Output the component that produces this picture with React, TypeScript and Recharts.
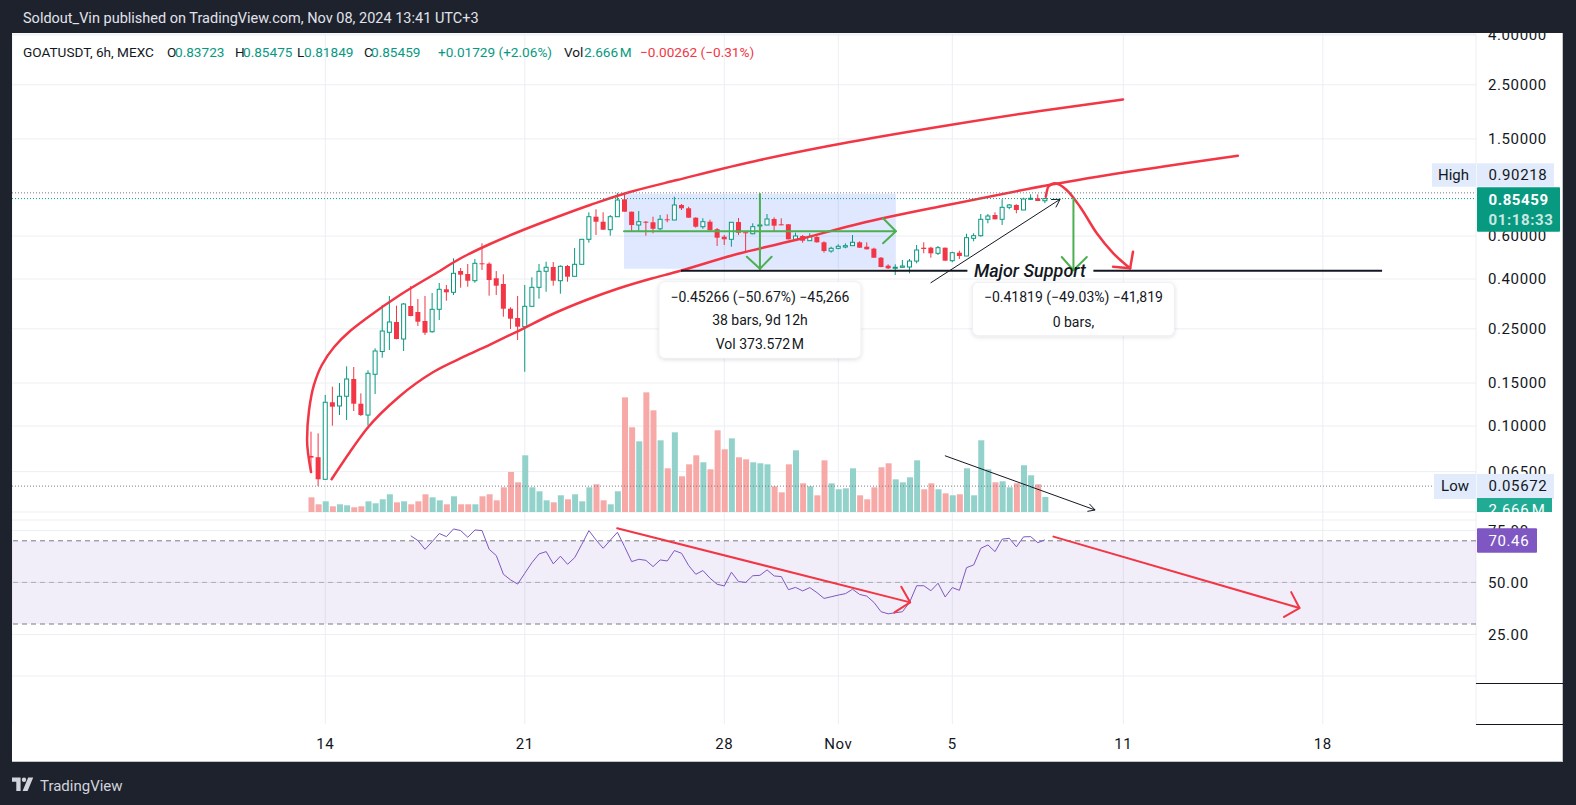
import React from 'react';
import {
  ComposedChart,
  Bar,
  Line,
  XAxis,
  YAxis,
  CartesianGrid,
  ReferenceLine,
  ReferenceArea,
  ReferenceDot,
  Cell,
} from 'recharts';

const W = 1576;
const H = 805;

const FRAME = '#1e222d';
const UP = '#089981';
const DOWN = '#f23645';
const UP_VOL = '#92d2cb';
const DOWN_VOL = '#f7a9a8';
const GRID = '#eceef2';
const TEXT = '#131722';
const DRAW_RED = '#f23645';
const DRAW_GREEN = '#4caf50';
const RSI_PURPLE = '#7e57c2';
const TAG_BLUE = '#e1ebfc';

// days: Oct n = n, Nov n = 31 + n
const DAY_MIN = 3.007;
const DAY_MAX = 54.375;
const FIRST_BAR_DAY = 13.5; // Oct 13, 12:00
const BAR_DAYS = 0.25; // 6h bars
const RSI_FIRST_BAR = 14;

const PRICE_MIN = 0.04443;
const PRICE_MAX = 4.037;
const VOL_MAX = 85;
const RSI_MIN = 5;
const RSI_MAX = 80;

const PRICE_TOP = 34;
const PRICE_BOTTOM = 512;
const RSI_TOP = 520;
const RSI_BOTTOM = 676;
const PANES_BOTTOM = 724;
const PLOT_LEFT = 12;
const AXIS_W = 100;

const HIGH_PRICE = 0.90218;
const LOW_PRICE = 0.05672;
const LAST_PRICE = 0.85459;
const LAST_VOLUME = 2.666;
const LAST_RSI = 70.46;

const dayTicks = [14, 21, 28, 32, 36, 42, 49];
const dayLabels = ['14', '21', '28', 'Nov', '5', '11', '18'];
const priceTicks = [4, 2.5, 1.5, 0.6, 0.4, 0.25, 0.15, 0.1, 0.065];
const rsiTicks = [75, 50, 25];

const opens = [
  0.0754, 0.0745, 0.0605, 0.1251, 0.1208, 0.1324, 0.1558, 0.1234, 0.1109, 0.1629,
  0.202, 0.242, 0.2668, 0.2272, 0.3102, 0.2932, 0.2693, 0.2434, 0.3007, 0.3632,
  0.353, 0.4316, 0.4195, 0.3938, 0.4641, 0.4624, 0.4029, 0.3818, 0.3024, 0.277,
  0.2552, 0.3093, 0.37, 0.4304, 0.4481, 0.3938, 0.4524, 0.4105, 0.4597, 0.582,
  0.7203, 0.6871, 0.6372, 0.7203, 0.8488, 0.7551, 0.6661, 0.6871, 0.6833, 0.6428,
  0.7029, 0.6982, 0.8044, 0.7798, 0.7136, 0.6555, 0.6871, 0.64, 0.5965, 0.582,
  0.685, 0.622, 0.6134, 0.66, 0.6661, 0.7049, 0.6706, 0.6706, 0.582, 0.6004,
  0.5744, 0.5948, 0.5658, 0.5212, 0.5347, 0.5412, 0.548, 0.5658, 0.5428, 0.533,
  0.4893, 0.4539, 0.443, 0.447, 0.4481, 0.474, 0.5377, 0.5377, 0.5099, 0.5377,
  0.4757, 0.5129, 0.4972, 0.5875, 0.6021, 0.7029, 0.732, 0.7029, 0.7871, 0.8044,
  0.7673, 0.8488, 0.8569, 0.83723,
];
const highs = [
  0.0948, 0.0933, 0.134, 0.1449, 0.15, 0.1756, 0.1745, 0.1361, 0.1691, 0.2081,
  0.3132, 0.3409, 0.3111, 0.3191, 0.3746, 0.3314, 0.3409, 0.3507, 0.3854, 0.3782,
  0.4865, 0.444, 0.461, 0.4833, 0.5605, 0.4685, 0.4316, 0.4183, 0.3064, 0.3409,
  0.3782, 0.4067, 0.461, 0.4711, 0.4698, 0.4554, 0.4567, 0.5362, 0.583, 0.7509,
  0.7724, 0.7509, 0.732, 0.9022, 0.8983, 0.756, 0.7601, 0.6916, 0.7203, 0.732,
  0.7368, 0.8699, 0.812, 0.7916, 0.7162, 0.7096, 0.7006, 0.6475, 0.6061, 0.684,
  0.7116, 0.6254, 0.6768, 0.6871, 0.7389, 0.7162, 0.7096, 0.6724, 0.6194, 0.6061,
  0.6159, 0.6061, 0.5713, 0.5428, 0.5552, 0.5605, 0.6061, 0.5713, 0.5658, 0.5377,
  0.4925, 0.4597, 0.4597, 0.4787, 0.4833, 0.5516, 0.5658, 0.5428, 0.5464, 0.5385,
  0.5178, 0.5228, 0.6134, 0.6159, 0.7389, 0.7389, 0.7509, 0.8488, 0.812, 0.8097,
  0.8618, 0.8898, 0.8898, 0.85475,
];
const lows = [
  0.066, 0.0567, 0.0603, 0.1003, 0.1109, 0.1058, 0.1152, 0.1099, 0.1003, 0.1352,
  0.1905, 0.2048, 0.2265, 0.2029, 0.2815, 0.2569, 0.236, 0.2411, 0.2718, 0.3261,
  0.3441, 0.3687, 0.3722, 0.3865, 0.4357, 0.3419, 0.3441, 0.2804, 0.2497, 0.2251,
  0.1669, 0.309, 0.3323, 0.355, 0.3757, 0.3484, 0.3901, 0.41, 0.459, 0.5636,
  0.6061, 0.6365, 0.6021, 0.7195, 0.7545, 0.6294, 0.6294, 0.6021, 0.6159, 0.6336,
  0.6833, 0.6975, 0.7673, 0.713, 0.6493, 0.6428, 0.633, 0.5464, 0.5516, 0.5428,
  0.6061, 0.5178, 0.6102, 0.6354, 0.6655, 0.6253, 0.664, 0.5815, 0.5815, 0.5636,
  0.5728, 0.5636, 0.5129, 0.5129, 0.5296, 0.5347, 0.5464, 0.537, 0.529, 0.4885,
  0.4475, 0.4398, 0.4156, 0.4452, 0.4223, 0.4641, 0.5099, 0.4893, 0.5019, 0.475,
  0.4685, 0.4833, 0.4965, 0.5713, 0.5965, 0.6768, 0.702, 0.6661, 0.7724, 0.7438,
  0.7665, 0.8432, 0.8345, 0.81849,
];
const closes = [
  0.0742, 0.0605, 0.1251, 0.12, 0.1324, 0.1558, 0.1234, 0.1109, 0.1644, 0.2029,
  0.245, 0.2668, 0.2272, 0.3161, 0.2823, 0.2675, 0.2411, 0.3007, 0.3632, 0.353,
  0.4223, 0.4168, 0.3938, 0.4641, 0.4624, 0.3964, 0.3757, 0.3024, 0.2752, 0.2552,
  0.3093, 0.37, 0.4304, 0.4469, 0.3938, 0.4511, 0.409, 0.4597, 0.582, 0.7203,
  0.6871, 0.6372, 0.7203, 0.8432, 0.7551, 0.6661, 0.6871, 0.6833, 0.6428, 0.7029,
  0.6982, 0.8044, 0.7798, 0.7136, 0.6555, 0.6871, 0.6336, 0.5909, 0.582, 0.6833,
  0.6194, 0.6159, 0.6555, 0.6661, 0.7049, 0.6617, 0.6642, 0.582, 0.6004, 0.5744,
  0.5965, 0.5658, 0.5212, 0.5347, 0.5448, 0.548, 0.5658, 0.5377, 0.5296, 0.4893,
  0.4481, 0.4427, 0.447, 0.4524, 0.474, 0.5261, 0.5311, 0.5099, 0.5377, 0.4757,
  0.5129, 0.4972, 0.5909, 0.6021, 0.7029, 0.7251, 0.7029, 0.7871, 0.8044, 0.7673,
  0.8513, 0.8569, 0.8353, 0.85459,
];
// volume, millions
const volumes = [
  2.61, 1.37, 1.9, 1.01, 1.37, 1.19, 0.84, 1.01, 1.9, 1.55,
  2.26, 3.15, 1.72, 1.9, 1.37, 1.9, 3.15, 2.61, 2.08, 1.37,
  2.79, 1.37, 1.37, 1.37, 2.79, 3.15, 2.08, 4.39, 7.11, 5.28,
  10.08, 4.39, 3.68, 2.08, 1.72, 2.97, 2.26, 3.15, 1.9, 4.39,
  4.93, 2.08, 1.37, 3.68, 20.39, 15.06, 12.57, 21.28, 18.08, 12.75,
  7.77, 14.17, 6.35, 8.48, 10.08, 8.84, 7.59, 14.53, 11.15, 13.1,
  9.73, 9.37, 8.84, 8.66, 8.48, 4.57, 3.5, 8.48, 10.97, 5.1,
  4.57, 2.97, 9.19, 5.1, 4.04, 4.21, 7.77, 2.97, 2.26, 4.39,
  7.95, 8.66, 5.81, 5.28, 6.17, 9.19, 4.04, 5.1, 4.04, 3.32,
  2.97, 3.15, 7.77, 2.97, 12.75, 7.59, 5.28, 5.46, 4.39, 5.1,
  8.3, 6.53, 4.93, 2.666,
];
// RSI(14), from the 15th bar on
const rsiValues = [
  72.4, 70.1, 65.9, 69.6, 73.5, 72.0, 75.7, 74.9, 71.7, 75.2,
  74.9, 65.9, 62.9, 53.9, 51.2, 49.2, 54.4, 59.5, 63.7, 64.8,
  58.9, 62.6, 58.7, 61.9, 68.3, 74.9, 70.4, 66.4, 70.3, 74.1,
  67.2, 60.0, 61.1, 60.6, 57.6, 60.8, 60.3, 65.3, 64.0, 58.1,
  53.9, 55.7, 52.0, 49.1, 48.3, 54.9, 50.4, 50.0, 53.2, 53.4,
  56.0, 53.1, 52.8, 46.5, 47.6, 45.9, 47.5, 45.1, 42.3, 43.1,
  43.9, 44.6, 46.7, 44.2, 43.4, 40.4, 35.9, 34.9, 35.4, 35.9,
  40.4, 48.4, 48.4, 46.0, 49.6, 43.0, 47.5, 46.2, 57.1, 58.4,
  66.4, 68.0, 64.8, 70.8, 71.2, 67.1, 71.9, 72.0, 69.1, 70.46,
];

// chart drawings, in (day, price) terms
const outerArc = [
  { d: 41.99, p: 2.176 }, { d: 39.08, p: 1.953 }, { d: 35.92, p: 1.711 }, { d: 32.41, p: 1.457 },
  { d: 29.25, p: 1.23 }, { d: 26.34, p: 1.018 }, { d: 24.69, p: 0.9094 }, { d: 23.29, p: 0.8044 },
  { d: 22.13, p: 0.7183 }, { d: 20.94, p: 0.6354 }, { d: 19.78, p: 0.5568 }, { d: 18.97, p: 0.5019 },
  { d: 17.78, p: 0.4156 }, { d: 16.62, p: 0.3441 }, { d: 15.46, p: 0.277 }, { d: 14.87, p: 0.245 },
  { d: 14.31, p: 0.2107 }, { d: 13.88, p: 0.1778 }, { d: 13.6, p: 0.1472 }, { d: 13.43, p: 0.1163 },
  { d: 13.36, p: 0.0876 }, { d: 13.5, p: 0.0648 },
];
const innerArc = [
  { d: 14.22, p: 0.0605 }, { d: 14.87, p: 0.0785 }, { d: 15.45, p: 0.0972 }, { d: 16.62, p: 0.1327 },
  { d: 17.79, p: 0.1664 }, { d: 18.96, p: 0.1945 }, { d: 19.78, p: 0.2157 }, { d: 20.77, p: 0.245 },
  { d: 21.94, p: 0.2863 }, { d: 23.11, p: 0.3267 }, { d: 24.28, p: 0.3659 }, { d: 25.45, p: 0.4021 },
  { d: 26.27, p: 0.4263 }, { d: 28.45, p: 0.5066 }, { d: 30.76, p: 0.5875 }, { d: 32.76, p: 0.6756 },
  { d: 35.92, p: 0.8081 }, { d: 39.53, p: 0.9779 }, { d: 46.02, p: 1.2807 },
];
const hookArrow = [
  { d: 39.28, p: 0.8699 }, { d: 39.37, p: 0.956 }, { d: 39.6, p: 0.9871 }, { d: 40.01, p: 0.9266 },
  { d: 40.48, p: 0.7916 }, { d: 41.07, p: 0.6159 }, { d: 41.65, p: 0.51 }, { d: 42.24, p: 0.4427 },
];
const hookHead = [{ d: 42.34, p: 0.5178 }, { d: 42.24, p: 0.4427 }, { d: 41.64, p: 0.4495 }];

const measureBox = { d1: 24.48, d2: 34.02, pTop: 0.8934, pBottom: 0.4407 };
const measureShaftH = [{ d: 24.48, p: 0.6275 }, { d: 34.02, p: 0.6275 }];
const measureHeadH = [{ d: 33.57, p: 0.7096 }, { d: 34.02, p: 0.6275 }, { d: 33.57, p: 0.5605 }];
const measureShaftV = [{ d: 29.25, p: 0.8934 }, { d: 29.25, p: 0.4407 }];
const measureHeadV = [{ d: 28.79, p: 0.4939 }, { d: 29.25, p: 0.4407 }, { d: 29.66, p: 0.4939 }];
const dropShaft = [{ d: 40.25, p: 0.8529 }, { d: 40.25, p: 0.4347 }];
const dropHead = [{ d: 39.84, p: 0.4925 }, { d: 40.25, p: 0.4347 }, { d: 40.72, p: 0.4925 }];

const trendShaft = [{ d: 35.25, p: 0.3865 }, { d: 39.78, p: 0.8488 }];
const trendHead = [{ d: 39.48, p: 0.8472 }, { d: 39.78, p: 0.8488 }, { d: 39.64, p: 0.7894 }];

const SUPPORT_PRICE = 0.4328;
const supportLeft = [26.48, 36.53];
const supportRight = [40.95, 51.08];
const SUPPORT_TEXT_DAY = 38.72;

const volShaft = [{ d: 35.74, v: 10.01 }, { d: 41.01, v: 0.36 }];
const volHead = [{ d: 40.81, v: 1.44 }, { d: 41.01, v: 0.36 }, { d: 40.74, v: 0.11 }];

const rsiShaft1 = [{ d: 24.24, rsi: 76.07 }, { d: 34.52, rsi: 40.41 }];
const rsiHead1 = [{ d: 34.21, rsi: 47.93 }, { d: 34.52, rsi: 40.41 }, { d: 33.97, rsi: 35.59 }];
const rsiShaft2 = [{ d: 39.55, rsi: 72.0 }, { d: 48.18, rsi: 37.66 }];
const rsiHead2 = [{ d: 47.89, rsi: 45.33 }, { d: 48.18, rsi: 37.66 }, { d: 47.64, rsi: 33.37 }];

const measure1 = { d: 29.25, p: 0.4407, lines: ['−0.45266 (−50.67%) −45,266', '38 bars, 9d 12h', 'Vol 373.572\u202fM'] };
const measure2 = { d: 40.25, p: 0.4347, lines: ['−0.41819 (−49.03%) −41,819', '0 bars,'] };

const candles = opens.map((o, i) => ({
  d: FIRST_BAR_DAY + i * BAR_DAYS,
  open: o,
  high: highs[i],
  low: lows[i],
  close: closes[i],
  range: [lows[i], highs[i]],
  vol: volumes[i],
}));

const rsiPoints = rsiValues.map((r, i) => ({ d: FIRST_BAR_DAY + (RSI_FIRST_BAR + i) * BAR_DAYS, rsi: r }));

const priceStrokes = [
  { id: 'outer', pts: outerArc, color: DRAW_RED, width: 2.5, curve: 'monotoneY' },
  { id: 'inner', pts: innerArc, color: DRAW_RED, width: 2.5, curve: 'monotone' },
  { id: 'hook', pts: hookArrow, color: DRAW_RED, width: 2.5, curve: 'monotone' },
  { id: 'hookHead', pts: hookHead, color: DRAW_RED, width: 2.5, curve: 'linear' },
  { id: 'mH', pts: measureShaftH, color: DRAW_GREEN, width: 2, curve: 'linear' },
  { id: 'mHh', pts: measureHeadH, color: DRAW_GREEN, width: 2, curve: 'linear' },
  { id: 'mV', pts: measureShaftV, color: DRAW_GREEN, width: 2, curve: 'linear' },
  { id: 'mVh', pts: measureHeadV, color: DRAW_GREEN, width: 2, curve: 'linear' },
  { id: 'drop', pts: dropShaft, color: DRAW_GREEN, width: 2, curve: 'linear' },
  { id: 'dropH', pts: dropHead, color: DRAW_GREEN, width: 2, curve: 'linear' },
  { id: 'trend', pts: trendShaft, color: TEXT, width: 1, curve: 'linear' },
  { id: 'trendH', pts: trendHead, color: TEXT, width: 1, curve: 'linear' },
];
const volStrokes = [
  { id: 'vol', pts: volShaft },
  { id: 'volH', pts: volHead },
];
const rsiStrokes = [rsiShaft1, rsiHead1, rsiShaft2, rsiHead2];

const AXIS_TICK = { fontSize: 15, fill: TEXT, letterSpacing: 0.6 };

function Candle(props: any) {
  const { x, y, width, height, payload } = props;
  if (x == null || y == null || !payload) return null;
  const cx = x + width / 2;
  const lh = Math.log(payload.high);
  const ll = Math.log(payload.low);
  const toY = (p: number) => (lh === ll ? y : y + (height * (lh - Math.log(p))) / (lh - ll));
  const up = payload.close >= payload.open;
  const color = up ? UP : DOWN;
  const yo = toY(payload.open);
  const yc = toY(payload.close);
  const top = Math.min(yo, yc);
  const h = Math.max(Math.abs(yo - yc), 1);
  return (
    <g>
      <line x1={cx} x2={cx} y1={y} y2={y + height} stroke={color} strokeWidth={1} />
      {up ? (
        <rect x={cx - 2} y={top} width={4} height={h} fill="#fff" stroke={color} strokeWidth={1} />
      ) : (
        <rect x={cx - 2.5} y={top} width={5} height={h} fill={color} />
      )}
    </g>
  );
}

function MeasureLabel({ cx, cy, lines }: any) {
  if (cx == null || cy == null) return null;
  const three = lines.length === 3;
  const top = three ? 12.9 : 12.1;
  const height = three ? 76.6 : 53.4;
  const rows = three ? [27.9, 51.2, 75.5] : [26.5, 51.5];
  return (
    <g>
      <rect x={cx - 101} y={cy + top} width={202} height={height} rx={6} fill="#fff" stroke="#e6e8ee" strokeWidth={0.6} filter="url(#boxShadow)" />
      {lines.map((t: string, i: number) => (
        <text key={i} x={cx} y={cy + rows[i]} textAnchor="middle" dominantBaseline="central" fontSize={14} fill={TEXT}>
          {t}
        </text>
      ))}
    </g>
  );
}

function SupportText({ cx, cy }: any) {
  if (cx == null || cy == null) return null;
  return (
    <text x={cx} y={cy + 6.5} textAnchor="middle" fontSize={18} fontStyle="italic" fontWeight={500} fill={TEXT}>
      Major Support
    </text>
  );
}

function HighTag({ cx, cy }: any) {
  const top = cy - 29.5;
  return (
    <g>
      <rect x={cx - 44} y={top} width={44} height={23.4} fill={TAG_BLUE} />
      <text x={cx - 22.5} y={top + 11.7} textAnchor="middle" dominantBaseline="central" fontSize={15} fill={TEXT}>High</text>
      <rect x={cx + 1} y={top} width={77} height={23.4} fill={TAG_BLUE} />
      <text x={cx + 12.5} y={top + 11.7} dominantBaseline="central" fontSize={15} letterSpacing={0.6} fill={TEXT}>
        {HIGH_PRICE.toFixed(5)}
      </text>
    </g>
  );
}

function LowTag({ cx, cy }: any) {
  const top = cy - 12.2;
  return (
    <g>
      <rect x={cx - 42} y={top} width={42} height={25} fill={TAG_BLUE} />
      <text x={cx - 21} y={top + 12.5} textAnchor="middle" dominantBaseline="central" fontSize={15} fill={TEXT}>Low</text>
      <rect x={cx + 1} y={top} width={77} height={25} fill={TAG_BLUE} />
      <text x={cx + 12.5} y={top + 12.5} dominantBaseline="central" fontSize={15} letterSpacing={0.6} fill={TEXT}>
        {LOW_PRICE.toFixed(5)}
      </text>
    </g>
  );
}

function LastPriceTag({ cx, cy }: any) {
  const top = cy - 11.3;
  return (
    <g>
      <rect x={cx + 1} y={top} width={83} height={44.4} rx={1} fill={UP} />
      <text x={cx + 12.5} y={top + 12.7} dominantBaseline="central" fontSize={15} fontWeight={700} letterSpacing={0.6} fill="#fff">
        {LAST_PRICE.toFixed(5)}
      </text>
      <text x={cx + 12.5} y={top + 32.7} dominantBaseline="central" fontSize={15} fontWeight={700} letterSpacing={0.6} fill="#fff" fillOpacity={0.8}>
        01:18:33
      </text>
    </g>
  );
}

function VolumeTag({ cx, cy }: any) {
  const top = cy + 1;
  const visible = Math.max(0, PRICE_BOTTOM - top);
  return (
    <svg x={cx + 1} y={top} width={75} height={visible} overflow="hidden">
      <rect x={0} y={0} width={75} height={24} fill="#22ab94" />
      <text x={11.5} y={12} dominantBaseline="central" fontSize={15} letterSpacing={0.6} fill="#fff">
        {LAST_VOLUME.toFixed(3)}{'\u202f'}M
      </text>
    </svg>
  );
}

function RsiTag({ cx, cy }: any) {
  const top = cy - 11.5;
  return (
    <g>
      <rect x={cx + 1} y={top} width={60} height={24.4} rx={1} fill={RSI_PURPLE} />
      <text x={cx + 12.5} y={top + 12.2} dominantBaseline="central" fontSize={15} letterSpacing={0.6} fill="#fff">
        {LAST_RSI.toFixed(2)}
      </text>
    </g>
  );
}

function hiddenDayAxis(id: string) {
  return (
    <XAxis key={id} xAxisId={id} type="number" dataKey="d" domain={[DAY_MIN, DAY_MAX]} allowDataOverflow hide />
  );
}

function TimeChart() {
  return (
    <ComposedChart width={W} height={H} data={candles} margin={{ top: PRICE_TOP, right: AXIS_W, bottom: H - PANES_BOTTOM - 30, left: PLOT_LEFT }}>
      <XAxis
        xAxisId="x"
        type="number"
        dataKey="d"
        domain={[DAY_MIN, DAY_MAX]}
        allowDataOverflow
        ticks={dayTicks}
        interval={0}
        tickFormatter={(v: number) => dayLabels[dayTicks.indexOf(v)]}
        axisLine={false}
        tickLine={false}
        tickMargin={8}
        height={30}
        tick={AXIS_TICK}
      />
      <YAxis yAxisId="y" hide domain={[0, 1]} />
      <CartesianGrid xAxisId="x" yAxisId="y" horizontal={false} stroke={GRID} />
      <Line xAxisId="x" yAxisId="y" dataKey="close" stroke="none" dot={false} activeDot={false} isAnimationActive={false} />
    </ComposedChart>
  );
}

function PriceChart() {
  return (
    <ComposedChart width={W} height={H} data={candles} margin={{ top: PRICE_TOP, right: 0, bottom: H - PRICE_BOTTOM, left: PLOT_LEFT }}>
      <defs>
        <filter id="boxShadow" x="-10%" y="-20%" width="120%" height="150%">
          <feDropShadow dx="0" dy="1" stdDeviation="2" floodColor="#000" floodOpacity="0.14" />
        </filter>
      </defs>
      {hiddenDayAxis('x')}
      {hiddenDayAxis('cx')}
      {hiddenDayAxis('vx')}
      <YAxis
        yAxisId="p"
        orientation="right"
        width={AXIS_W}
        scale="log"
        domain={[PRICE_MIN, PRICE_MAX]}
        allowDataOverflow
        ticks={priceTicks}
        interval={0}
        tickFormatter={(v: number) => v.toFixed(5)}
        axisLine={false}
        tickLine={false}
        tickMargin={6}
        tick={AXIS_TICK}
      />
      <YAxis yAxisId="v" hide domain={[0, VOL_MAX]} allowDataOverflow />
      <CartesianGrid xAxisId="x" yAxisId="p" vertical={false} stroke={GRID} />
      <ReferenceArea
        xAxisId="x"
        yAxisId="p"
        x1={measureBox.d1}
        x2={measureBox.d2}
        y1={measureBox.pBottom}
        y2={measureBox.pTop}
        fill="#2962ff"
        fillOpacity={0.15}
        stroke="none"
      />
      <Bar xAxisId="vx" yAxisId="v" dataKey="vol" barSize={6} isAnimationActive={false}>
        {candles.map((c, i) => (
          <Cell key={i} fill={c.close >= c.open ? UP_VOL : DOWN_VOL} />
        ))}
      </Bar>
      <Bar
        xAxisId="cx"
        yAxisId="p"
        dataKey="range"
        barSize={5}
        isAnimationActive={false}
        shape={(props: any) => <Candle {...props} />}
      />
      {priceStrokes.map((s) => (
        <Line
          key={s.id}
          xAxisId="x"
          yAxisId="p"
          data={s.pts}
          dataKey="p"
          type={s.curve as any}
          stroke={s.color}
          strokeWidth={s.width}
          strokeLinecap="round"
          strokeLinejoin="round"
          dot={false}
          activeDot={false}
          isAnimationActive={false}
        />
      ))}
      {volStrokes.map((s) => (
        <Line
          key={s.id}
          xAxisId="x"
          yAxisId="v"
          data={s.pts}
          dataKey="v"
          type="linear"
          stroke={TEXT}
          strokeWidth={1}
          dot={false}
          activeDot={false}
          isAnimationActive={false}
        />
      ))}
      {[supportLeft, supportRight].map((seg, i) => (
        <ReferenceLine
          key={i}
          xAxisId="x"
          yAxisId="p"
          segment={[{ x: seg[0], y: SUPPORT_PRICE }, { x: seg[1], y: SUPPORT_PRICE }]}
          stroke={TEXT}
          strokeWidth={2}
        />
      ))}
      <ReferenceDot xAxisId="x" yAxisId="p" x={SUPPORT_TEXT_DAY} y={SUPPORT_PRICE} ifOverflow="visible" shape={(p: any) => <SupportText cx={p.cx} cy={p.cy} />} />
      {[measure1, measure2].map((m, i) => (
        <ReferenceDot
          key={i}
          xAxisId="x"
          yAxisId="p"
          x={m.d}
          y={m.p}
          ifOverflow="visible"
          shape={(p: any) => <MeasureLabel cx={p.cx} cy={p.cy} lines={m.lines} />}
        />
      ))}
    </ComposedChart>
  );
}

function RsiChart() {
  return (
    <ComposedChart width={W} height={H} data={rsiPoints} margin={{ top: RSI_TOP, right: 0, bottom: H - RSI_BOTTOM, left: PLOT_LEFT }}>
      {hiddenDayAxis('x')}
      <YAxis
        yAxisId="r"
        orientation="right"
        width={AXIS_W}
        domain={[RSI_MIN, RSI_MAX]}
        allowDataOverflow
        ticks={rsiTicks}
        interval={0}
        tickFormatter={(v: number) => v.toFixed(2)}
        axisLine={false}
        tickLine={false}
        tickMargin={6}
        tick={AXIS_TICK}
      />
      <CartesianGrid xAxisId="x" yAxisId="r" vertical={false} stroke={GRID} />
      <ReferenceArea xAxisId="x" yAxisId="r" y1={30} y2={70} fill={RSI_PURPLE} fillOpacity={0.1} stroke="none" />
      <ReferenceLine xAxisId="x" yAxisId="r" y={70} stroke="#787b86" strokeDasharray="5 4" />
      <ReferenceLine xAxisId="x" yAxisId="r" y={50} stroke="#787b86" strokeOpacity={0.5} strokeDasharray="5 4" />
      <ReferenceLine xAxisId="x" yAxisId="r" y={30} stroke="#787b86" strokeDasharray="5 4" />
      <Line xAxisId="x" yAxisId="r" dataKey="rsi" type="linear" stroke={RSI_PURPLE} strokeWidth={1} dot={false} activeDot={false} isAnimationActive={false} />
      {rsiStrokes.map((pts, i) => (
        <Line
          key={i}
          xAxisId="x"
          yAxisId="r"
          data={pts}
          dataKey="rsi"
          type="linear"
          stroke={DRAW_RED}
          strokeWidth={2}
          strokeLinecap="round"
          strokeLinejoin="round"
          dot={false}
          activeDot={false}
          isAnimationActive={false}
        />
      ))}
    </ComposedChart>
  );
}

function PriceTags() {
  return (
    <ComposedChart width={W} height={H} data={candles} margin={{ top: PRICE_TOP, right: AXIS_W, bottom: H - PRICE_BOTTOM, left: PLOT_LEFT }}>
      {hiddenDayAxis('x')}
      <YAxis yAxisId="p" hide scale="log" domain={[PRICE_MIN, PRICE_MAX]} allowDataOverflow />
      <YAxis yAxisId="v" hide domain={[0, VOL_MAX]} allowDataOverflow />
      <ReferenceLine xAxisId="x" yAxisId="p" y={HIGH_PRICE} stroke="#787b86" strokeDasharray="1 2" />
      <ReferenceLine xAxisId="x" yAxisId="p" y={LAST_PRICE} stroke={UP} strokeDasharray="1 2" />
      <ReferenceLine xAxisId="x" yAxisId="p" y={LOW_PRICE} stroke="#787b86" strokeDasharray="1 2" />
      <ReferenceDot xAxisId="x" yAxisId="p" x={DAY_MAX} y={HIGH_PRICE} ifOverflow="visible" shape={(p: any) => <HighTag cx={p.cx} cy={p.cy} />} />
      <ReferenceDot xAxisId="x" yAxisId="p" x={DAY_MAX} y={LAST_PRICE} ifOverflow="visible" shape={(p: any) => <LastPriceTag cx={p.cx} cy={p.cy} />} />
      <ReferenceDot xAxisId="x" yAxisId="p" x={DAY_MAX} y={LOW_PRICE} ifOverflow="visible" shape={(p: any) => <LowTag cx={p.cx} cy={p.cy} />} />
      <ReferenceDot xAxisId="x" yAxisId="v" x={DAY_MAX} y={LAST_VOLUME} ifOverflow="visible" shape={(p: any) => <VolumeTag cx={p.cx} cy={p.cy} />} />
    </ComposedChart>
  );
}

function RsiTags() {
  return (
    <ComposedChart width={W} height={H} data={rsiPoints} margin={{ top: RSI_TOP, right: AXIS_W, bottom: H - RSI_BOTTOM, left: PLOT_LEFT }}>
      {hiddenDayAxis('x')}
      <YAxis yAxisId="r" hide domain={[RSI_MIN, RSI_MAX]} allowDataOverflow />
      <ReferenceDot xAxisId="x" yAxisId="r" x={DAY_MAX} y={LAST_RSI} ifOverflow="visible" shape={(p: any) => <RsiTag cx={p.cx} cy={p.cy} />} />
    </ComposedChart>
  );
}

const layer: React.CSSProperties = { position: 'absolute', left: 0, top: 0 };

export default function App() {
  return (
    <div
      style={{
        position: 'absolute',
        left: 0,
        top: 0,
        width: W,
        height: H,
        background: FRAME,
        overflow: 'hidden',
        fontFamily: 'Roboto, "Noto Sans", sans-serif',
      }}
    >
      <div
        style={{
          position: 'absolute',
          left: 12,
          top: 33,
          width: 1551,
          height: 729,
          background: '#fff',
          boxSizing: 'border-box',
          borderRight: '1px solid #c3c5cb',
          borderBottom: '1px solid #c3c5cb',
        }}
      />
      <div style={layer}><TimeChart /></div>
      <div style={layer}><PriceChart /></div>
      <div style={layer}><RsiChart /></div>
      <div style={layer}><PriceTags /></div>
      <div style={layer}><RsiTags /></div>

      <div style={{ position: 'absolute', left: 0, top: 0, width: W, height: 33, background: FRAME }} />
      <div style={{ position: 'absolute', left: 0, top: 33, width: 12, height: 729, background: FRAME }} />
      <div style={{ position: 'absolute', left: 1563, top: 33, width: 13, height: 729, background: FRAME }} />
      <div style={{ position: 'absolute', left: 0, top: 762, width: W, height: 43, background: FRAME }} />

      <svg width={W} height={H} style={{ position: 'absolute', left: 0, top: 0 }}>
        <text x={23} y={22.8} fontSize={14.5} fill="#e1e3ea">
          Soldout_Vin published on TradingView.com, Nov 08, 2024 13:41 UTC+3
        </text>
        <text y={56.5} fontSize={13.6}>
          <tspan x={23} fill={TEXT}>GOATUSDT, 6h, MEXC</tspan>
          <tspan x={167} fill={TEXT}>O</tspan>
          <tspan x={175} fill={UP}>0.83723</tspan>
          <tspan x={235} fill={TEXT}>H</tspan>
          <tspan x={243} fill={UP}>0.85475</tspan>
          <tspan x={297} fill={TEXT}>L</tspan>
          <tspan x={304} fill={UP}>0.81849</tspan>
          <tspan x={364} fill={TEXT}>C</tspan>
          <tspan x={371} fill={UP}>0.85459</tspan>
          <tspan x={438} fill={UP}>+0.01729 (+2.06%)</tspan>
          <tspan x={564} fill={TEXT}>Vol</tspan>
          <tspan x={584} fill={UP}>2.666{'\u202f'}M</tspan>
          <tspan x={640} fill={DOWN}>−0.00262 (−0.31%)</tspan>
        </text>
        <line x1={1476} x2={1563} y1={683.5} y2={683.5} stroke={TEXT} strokeWidth={1} />
        <line x1={1476} x2={1563} y1={724.5} y2={724.5} stroke={TEXT} strokeWidth={1} />
        <g fill="#d1d4dc">
          <path d="M12 777.5 h8.6 v13.5 h-4.3 v-9.2 h-4.3 z" />
          <circle cx={24} cy={779.7} r={2.2} />
          <path d="M28.2 777.5 h5 l-5.6 13.5 h-5 z" />
          <text x={40} y={790.5} fontSize={15}>TradingView</text>
        </g>
      </svg>
    </div>
  );
}
